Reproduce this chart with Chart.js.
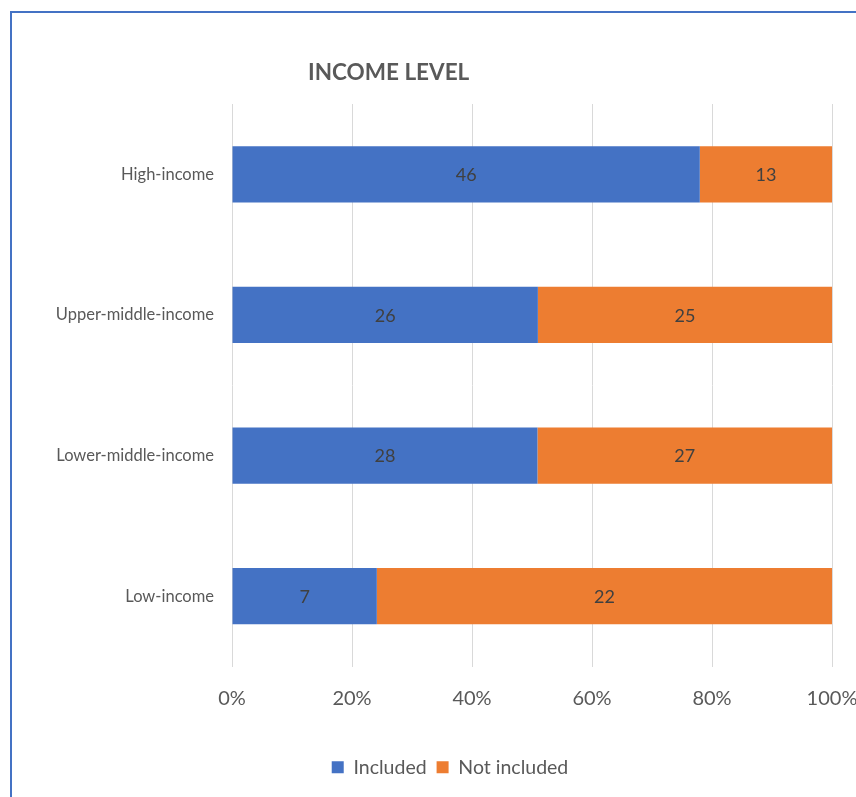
<!DOCTYPE html>
<html>
<head>
<meta charset="utf-8">
<script src="https://cdn.jsdelivr.net/npm/chart.js@4.4.1/dist/chart.umd.min.js"></script>
<style>
  html, body { margin: 0; padding: 0; background: #fff; overflow: hidden; }
  #frame {
    position: absolute; left: 10px; top: 11px; width: 900px; height: 820px;
    border: 2px solid #4472C4; box-sizing: border-box;
  }
  #title {
    position: absolute; left: 308px; top: 58px;
    font: bold 22.5px Lato, sans-serif; color: #595959; line-height: 1.2;
  }
  #wrap { position: absolute; left: 0; top: 0; width: 900px; height: 820px; }
</style>
</head>
<body>
<div id="frame"></div>
<div id="wrap"><canvas id="income-canvas"></canvas></div>
<div id="title">INCOME LEVEL</div>
<script>
// Категории и количество по группам дохода
const categories = ['High-income', 'Upper-middle-income', 'Lower-middle-income', 'Low-income'];
const includedCounts = [46, 26, 28, 7];
const notIncludedCounts = [13, 25, 27, 22];
const xTicks = [0, 20, 40, 60, 80, 100];

// Доли в процентах для 100% столбцов
const totals = categories.map((c, i) => includedCounts[i] + notIncludedCounts[i]);
const includedPct = includedCounts.map((v, i) => v / totals[i] * 100);
const notIncludedPct = notIncludedCounts.map((v, i) => v / totals[i] * 100);

// Подписи с количеством в центре каждого сегмента
const countLabels = {
  id: 'countLabels',
  afterDatasetsDraw(chart) {
    const ctx = chart.ctx;
    ctx.save();
    ctx.font = '18px Lato, sans-serif';
    ctx.fillStyle = '#404040';
    ctx.textAlign = 'center';
    ctx.textBaseline = 'middle';
    chart.data.datasets.forEach((ds, di) => {
      chart.getDatasetMeta(di).data.forEach((bar, i) => {
        const p = bar.getProps(['x', 'base', 'y'], true);
        ctx.fillText(String(ds.counts[i]), (p.x + p.base) / 2, p.y + 1);
      });
    });
    ctx.restore();
  }
};

const ctx = document.getElementById('income-canvas').getContext('2d');
window.incomeChart = new Chart(ctx, {
  type: 'bar',
  data: {
    labels: categories,
    datasets: [{
      label: 'Included',
      data: includedPct,
      counts: includedCounts,
      backgroundColor: '#4472C4',
      categoryPercentage: 0.8,
      barPercentage: 0.5
    }, {
      label: 'Not included',
      data: notIncludedPct,
      counts: notIncludedCounts,
      backgroundColor: '#ED7D31',
      categoryPercentage: 0.8,
      barPercentage: 0.5
    }]
  },
  options: {
    indexAxis: 'y',
    responsive: true,
    maintainAspectRatio: false,
    animation: false,
    layout: { padding: { left: 0, right: 0, top: 104, bottom: 33 } },
    scales: {
      x: {
        stacked: true,
        min: 0,
        max: 100,
        afterBuildTicks: axis => { axis.ticks = xTicks.map(v => ({ value: v })); },
        afterFit: axis => { axis.height = 81; },
        grid: { color: '#d9d9d9', lineWidth: 1, drawTicks: false },
        border: { display: false },
        ticks: {
          padding: 20,
          color: '#595959',
          font: { family: 'Lato', size: 20 },
          callback: v => v + '%'
        }
      },
      y: {
        stacked: true,
        afterFit: axis => { axis.width = 232; },
        grid: { display: false },
        border: { display: false },
        ticks: {
          padding: 10,
          color: '#595959',
          font: { family: 'Lato', size: 16.5 }
        }
      },
      // пустая ось справа, чтобы легенда была по центру всей рамки
      yRight: {
        type: 'category',
        position: 'right',
        afterFit: axis => { axis.width = 68; },
        grid: { display: false },
        border: { display: false },
        ticks: { display: false }
      }
    },
    plugins: {
      legend: {
        position: 'bottom',
        labels: {
          boxWidth: 12,
          boxHeight: 12,
          padding: 10,
          color: '#595959',
          font: { family: 'Lato', size: 19.5 }
        }
      },
      tooltip: { enabled: false }
    }
  },
  plugins: [countLabels]
});
</script>
</body>
</html>
